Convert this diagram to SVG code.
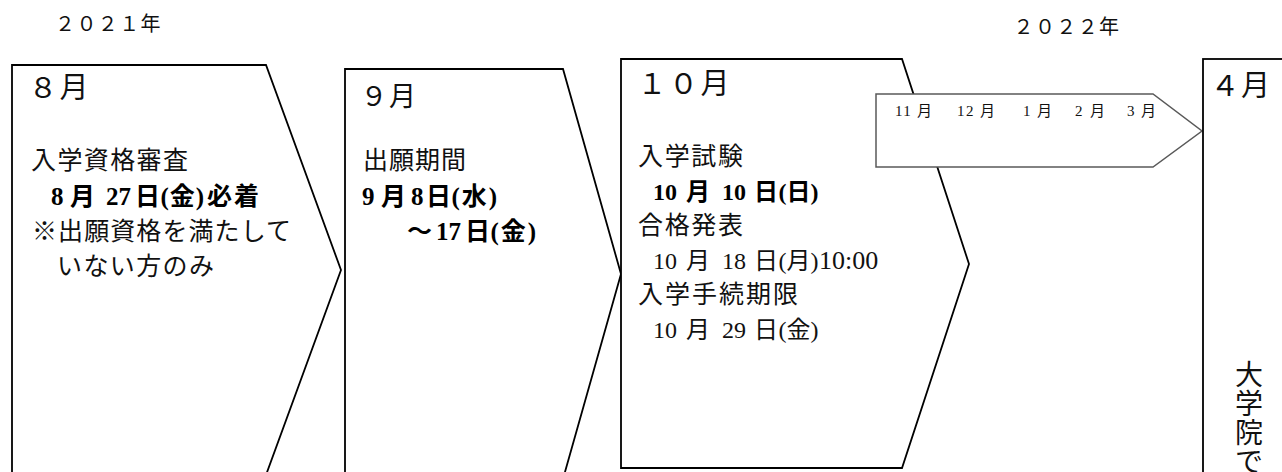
<svg xmlns="http://www.w3.org/2000/svg" width="1282" height="472" viewBox="0 0 1282 472">
<style>
.shape{fill:#fff;stroke:#000;stroke-width:1.8;stroke-linejoin:miter}
.arrow{fill:#fff;stroke:#595959;stroke-width:1.5}
text{font-family:"Liberation Serif","Noto Sans CJK JP",serif;fill:#111}
.yr{font-size:20px;letter-spacing:1.4px}
.hd{font-size:29px}
.t{font-size:25px}
.d{font-size:24px}
.b{font-size:25px;font-weight:bold;fill:#000}
.b2{font-size:24px;font-weight:bold;fill:#000}
.s{font-size:15px}
.v{font-size:28px;text-anchor:middle}
</style>
<rect width="1282" height="472" fill="#fff"/>
<g id="year-2021"><text class="yr" x="55" y="31">２０２１年</text></g>
<g id="year-2022"><text class="yr" x="1013.5" y="34">２０２２年</text></g>

<g id="aug">
<path class="shape" d="M12,65 L266,65 L341,270 L266,475 L12,475 Z"/>
<text class="hd" x="28.5" y="98" letter-spacing="2">８月</text>
<text class="t" x="31" y="169" textLength="157" lengthAdjust="spacing">入学資格審査</text>
<text class="b" y="205"><tspan x="51">8</tspan><tspan x="70">月</tspan><tspan x="106">27</tspan><tspan x="135">日</tspan><tspan x="160.5" letter-spacing="1">(金)</tspan><tspan x="207" letter-spacing="2">必着</tspan></text>
<text class="t" x="32" y="240" textLength="259" lengthAdjust="spacing">※出願資格を満たして</text>
<text class="t" x="57" y="275" textLength="157" lengthAdjust="spacing">いない方のみ</text>
</g>

<g id="sep">
<path class="shape" d="M345,69 L563,69 L621,274 L563,479 L345,479 Z"/>
<text class="hd" x="360.5" y="106" letter-spacing="1.5" style="font-size:27px">９月</text>
<text class="t" x="363" y="169" textLength="103" lengthAdjust="spacing">出願期間</text>
<text class="b" y="205"><tspan x="362">9</tspan><tspan x="381">月</tspan><tspan x="411">8</tspan><tspan x="426">日</tspan><tspan x="451.5" letter-spacing="2">(水)</tspan></text>
<text class="b" y="240"><tspan x="407">～</tspan><tspan x="436">17</tspan><tspan x="465">日</tspan><tspan x="490.5" letter-spacing="2">(金)</tspan></text>
</g>

<g id="oct">
<path class="shape" d="M621,59 L902,59 L969,264 L902,468 L621,468 Z"/>
<text class="hd" x="637.5" y="94" letter-spacing="2.5">１０月</text>
<text class="t" x="638" y="165" textLength="105" lengthAdjust="spacing">入学試験</text>
<text class="b2" y="200"><tspan x="653">10</tspan><tspan x="686">月</tspan><tspan x="722">10</tspan><tspan x="754">日</tspan><tspan x="778.5">(日)</tspan></text>
<text class="t" x="638" y="234" textLength="105" lengthAdjust="spacing">合格発表</text>
<text class="d" y="269"><tspan x="653">10</tspan><tspan x="686">月</tspan><tspan x="722">18</tspan><tspan x="754">日</tspan><tspan x="778.5">(月)</tspan><tspan x="819" style="font-size:26px">10:00</tspan></text>
<text class="t" x="638" y="303" textLength="160" lengthAdjust="spacing">入学手続期限</text>
<text class="d" y="338"><tspan x="653">10</tspan><tspan x="686">月</tspan><tspan x="722">29</tspan><tspan x="754">日</tspan><tspan x="778.5">(金)</tspan></text>
</g>

<g id="nov-mar">
<path class="arrow" d="M876,94 L1153,94 L1202,131 L1153,167 L876,167 Z"/>
<text class="s" x="895" y="116" textLength="37" lengthAdjust="spacing">11 月</text>
<text class="s" x="957" y="116" textLength="38" lengthAdjust="spacing">12 月</text>
<text class="s" x="1023" y="116" textLength="29" lengthAdjust="spacing">1 月</text>
<text class="s" x="1075" y="116" textLength="30" lengthAdjust="spacing">2 月</text>
<text class="s" x="1127" y="116" textLength="29" lengthAdjust="spacing">3 月</text>
</g>

<g id="apr">
<rect class="shape" x="1203" y="59" width="100" height="430"/>
<text class="hd" x="1210.5" y="96" letter-spacing="1.5">４月</text>
<text class="v"><tspan x="1249" y="385">大</tspan><tspan x="1249" y="414">学</tspan><tspan x="1249" y="443">院</tspan><tspan x="1249" y="472">で</tspan></text>
</g>

<g id="connectors"/>
</svg>
